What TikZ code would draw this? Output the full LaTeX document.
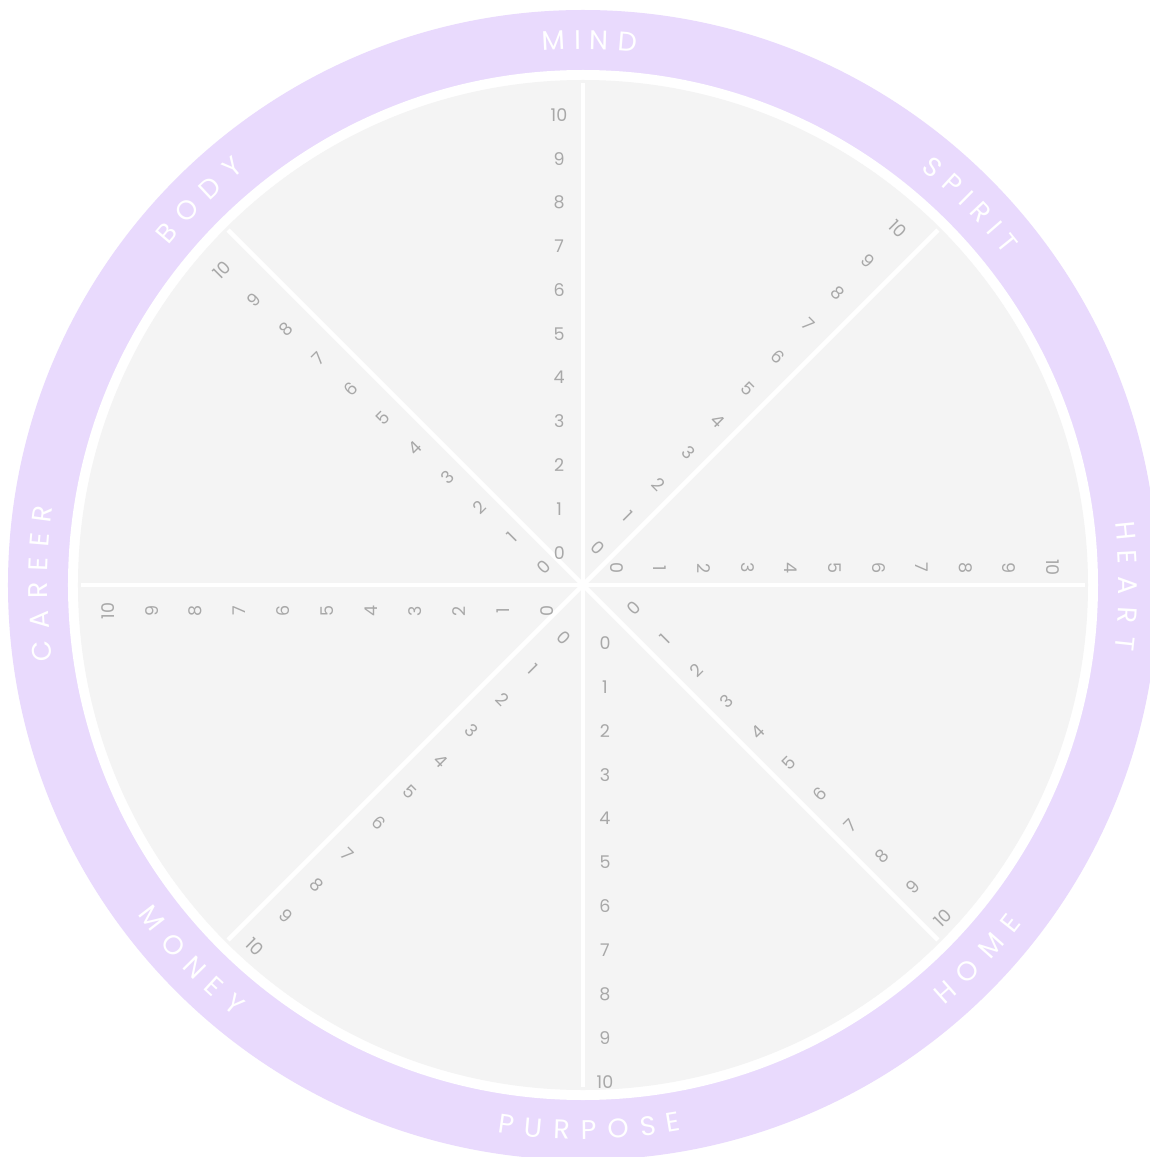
\documentclass[tikz,border=0pt]{standalone}
\usepackage{fontspec}
\setmainfont{Poppins}
\usetikzlibrary{calc}
\definecolor{ringpurple}{HTML}{E9DAFD}
\definecolor{diskgray}{HTML}{F4F4F4}
\definecolor{numgray}{HTML}{A8A8A8}
\begin{document}
\begin{tikzpicture}[x=1pt,y=1pt,
  numlbl/.style={text=numgray, font=\fontsize{17.5}{17.5}\selectfont, inner sep=0pt},
  ringlbl/.style={text=white, font=\fontsize{27}{27}\selectfont, inner sep=0pt},
  spoke/.style={draw=white, line width=4.5pt}]
\useasboundingbox (-583,-572) rectangle (567,585);
\fill[white] (-583,-572) rectangle (567,585);
% rings
\fill[ringpurple] (0,0) circle (575);
\fill[white] (0,0) circle (515);
\fill[diskgray] (0,0) circle (505);
% spokes
\coordinate (c) at (0,0);
\foreach \a/\n in {90/mind,45/spirit,0/heart,-45/home,-90/purpose,-135/money,180/career,135/body}
  \draw[spoke] (c) -- (\a:502) coordinate (\n-end);
% scale numbers
\foreach \n/\x/\y/\X/\Y/\r in {
    mind/-23.7/32.3/-24/470/0,
    spirit/15.3/36.7/315.3/356/-45,
    heart/33.7/16.7/470/17.5/-90,
    home/51.3/-23.3/360.3/-333.3/45,
    purpose/22/-58.3/22/-496.7/0,
    money/-18.7/-52.7/-328/-361.7/-45,
    career/-36.3/-26/-475/-26/90,
    body/-38.7/18.3/-361.3/315/45}
  \foreach \k in {0,...,10}
    \node[numlbl, rotate=\r] (\n-\k) at ($(\x,\y)!\k/10!(\X,\Y)$) {\k};
% ring labels, clockwise (tops outward)
\foreach \s/\l [count=\i] in {-36/M,-12/I,9/N,38.5/D}{
  \pgfmathsetmacro\a{89.3-\s*0.10513}
  \node[ringlbl, rotate=\a-90] (mind-l\i) at (\a:545) {\l};}
\foreach \s/\l [count=\i] in {-54/S,-28/P,-8.5/I,12/R,32.5/I,53/T}{
  \pgfmathsetmacro\a{44.4-\s*0.10513}
  \node[ringlbl, rotate=\a-90] (spirit-l\i) at (\a:545) {\l};}
\foreach \s/\l [count=\i] in {-56/H,-29.5/E,-1.5/A,28.5/R,56.5/T}{
  \pgfmathsetmacro\a{-0.2-\s*0.10513}
  \node[ringlbl, rotate=\a-90] (heart-l\i) at (\a:545) {\l};}
\foreach \s/\l [count=\i] in {-68/C,-37/A,-7/R,19/E,43/E,69/R}{
  \pgfmathsetmacro\a{179.8-\s*0.10513}
  \node[ringlbl, rotate=\a-90] (career-l\i) at (\a:545) {\l};}
\foreach \s/\l [count=\i] in {-47.5/B,-17/O,15/D,45.5/Y}{
  \pgfmathsetmacro\a{134.8-\s*0.10513}
  \node[ringlbl, rotate=\a-90] (body-l\i) at (\a:545) {\l};}
% ring labels, counter-clockwise (tops inward)
\foreach \s/\l [count=\i] in {-46.5/H,-15/O,19.5/M,49/E}{
  \pgfmathsetmacro\a{-43.5+\s*0.10513}
  \node[ringlbl, rotate=\a+90] (home-l\i) at (\a:545) {\l};}
\foreach \s/\l [count=\i] in {-83/P,-56/U,-28/R,-1/P,29/O,59/S,84/E}{
  \pgfmathsetmacro\a{-89.3+\s*0.10513}
  \node[ringlbl, rotate=\a+90] (purpose-l\i) at (\a:545) {\l};}
\foreach \s/\l [count=\i] in {-59/M,-24.5/O,7/N,33.5/E,61/Y}{
  \pgfmathsetmacro\a{223.9+\s*0.10513}
  \node[ringlbl, rotate=\a+90] (money-l\i) at (\a:545) {\l};}
\end{tikzpicture}
\end{document}
